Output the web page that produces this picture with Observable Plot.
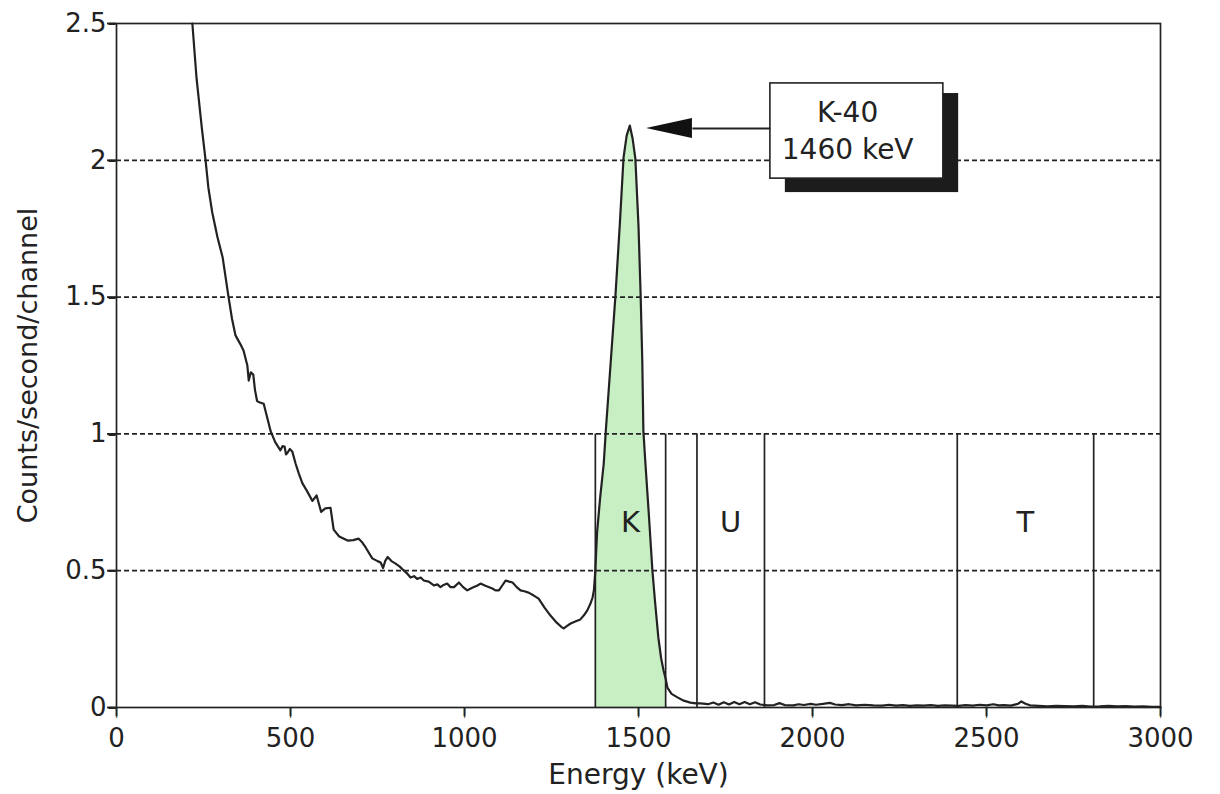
<!DOCTYPE html>
<html>
<head>
<meta charset="utf-8">
<script src="https://cdn.jsdelivr.net/npm/d3@7"></script>
<script src="https://cdn.jsdelivr.net/npm/@observablehq/plot@0.6"></script>
<style>
  html, body { margin: 0; padding: 0; background: #ffffff; }
  #chart { width: 1220px; height: 794px; }
</style>
</head>
<body>
<div id="chart"></div>
<script>
// ---- Data ----
const energy = [
  218, 230, 245, 256, 264, 275, 290, 305, 322, 332, 342, 355, 365, 376, 380, 386, 393, 398, 404, 412,
  423, 433, 443, 456, 471, 477, 483, 487, 491, 498, 505, 515, 524, 534, 548, 563, 575, 588, 600, 615,
  624, 640, 664, 680, 696, 705, 716, 735, 750, 759, 766, 772, 779, 790, 802, 814, 826, 835, 845, 855,
  864, 874, 883, 897, 912, 922, 931, 940, 950, 960, 970, 984, 996, 1008, 1018, 1027, 1036, 1046, 1060, 1080,
  1089, 1099, 1108, 1118, 1128, 1138, 1150, 1161, 1172, 1184, 1198, 1213, 1230, 1247, 1265, 1278, 1285, 1295, 1305, 1320,
  1333, 1345, 1353, 1362, 1368, 1372, 1376, 1378, 1381, 1390, 1400, 1406, 1420, 1434, 1446, 1457, 1466, 1475, 1483, 1491,
  1500, 1506, 1511, 1514, 1520, 1530, 1540, 1548, 1557, 1565, 1572, 1578, 1583, 1595, 1612, 1630, 1649, 1665, 1678,
  1700, 1715, 1730, 1745, 1760, 1775, 1790, 1805, 1820, 1835, 1850, 1870, 1890, 1905, 1920, 1945, 1960, 1975, 1995, 2010,
  2030, 2050, 2065, 2085, 2105, 2125, 2150, 2175, 2200, 2220, 2240, 2260, 2280, 2300, 2320, 2340, 2360, 2380, 2400, 2420,
  2440, 2460, 2480, 2500, 2520, 2535, 2550, 2570, 2590, 2600, 2612, 2625, 2650, 2675, 2700, 2725, 2750, 2775, 2800, 2825,
  2850, 2875, 2900, 2925, 2950, 2975, 3000
];
const counts = [
  2.50, 2.30, 2.12, 2.00, 1.90, 1.81, 1.72, 1.645, 1.50, 1.42, 1.36, 1.33, 1.305, 1.25, 1.195, 1.225, 1.217, 1.16, 1.12, 1.115,
  1.11, 1.06, 1.01, 0.97, 0.94, 0.955, 0.954, 0.925, 0.93, 0.945, 0.936, 0.89, 0.855, 0.82, 0.79, 0.755, 0.775, 0.715, 0.728, 0.73,
  0.65, 0.625, 0.61, 0.612, 0.617, 0.605, 0.585, 0.545, 0.535, 0.53, 0.51, 0.535, 0.55, 0.535, 0.526, 0.515, 0.50, 0.49, 0.475, 0.48,
  0.47, 0.475, 0.464, 0.46, 0.446, 0.45, 0.44, 0.448, 0.453, 0.44, 0.44, 0.457, 0.44, 0.428, 0.435, 0.44, 0.445, 0.453, 0.445, 0.435,
  0.428, 0.428, 0.445, 0.464, 0.46, 0.457, 0.44, 0.428, 0.425, 0.42, 0.41, 0.398, 0.365, 0.336, 0.31, 0.295, 0.289, 0.298, 0.307, 0.315,
  0.322, 0.34, 0.355, 0.38, 0.402, 0.43, 0.50, 0.56, 0.64, 0.77, 0.89, 1.01, 1.26, 1.51, 1.76, 2.01, 2.09, 2.127, 2.08, 2.006,
  1.76, 1.513, 1.26, 1.012, 0.89, 0.70, 0.50, 0.38, 0.256, 0.18, 0.135, 0.105, 0.073, 0.05, 0.037, 0.025, 0.018, 0.015, 0.015,
  0.012, 0.018, 0.010, 0.019, 0.011, 0.020, 0.012, 0.020, 0.012, 0.019, 0.011, 0.008, 0.009, 0.016, 0.009, 0.008, 0.012, 0.009, 0.013, 0.010,
  0.013, 0.017, 0.011, 0.009, 0.012, 0.008, 0.010, 0.008, 0.007, 0.010, 0.007, 0.009, 0.006, 0.008, 0.007, 0.009, 0.006, 0.008, 0.007, 0.006,
  0.009, 0.007, 0.010, 0.008, 0.012, 0.008, 0.009, 0.007, 0.013, 0.022, 0.014, 0.008, 0.006, 0.004, 0.006, 0.005, 0.004, 0.006, 0.003, 0.004,
  0.006, 0.004, 0.005, 0.003, 0.004, 0.002, 0.002
];

// Energy windows (keV): K, U, T
const windowNames = ["K", "U", "T"];
const windowLow  = [1376, 1668, 2416];
const windowHigh = [1578, 1862, 2808];
const windowLabelLevel = 0.676;

const gridLevels = [0.5, 1, 1.5, 2];
const xTicks = [0, 500, 1000, 1500, 2000, 2500, 3000];
const yTicks = [0, 0.5, 1, 1.5, 2, 2.5];

// Annotation (K-40 photopeak)
const annotLines = ["K-40", "1460 keV"];
const annotLineLevels = [2.171, 2.036];
const annotCenter = 2101;
const annotBox = {x1: 1879, x2: 2376, y1: 1.933, y2: 2.281};
const annotShadow = {x1: 1922, x2: 2420, y1: 1.882, y2: 2.244};
const arrowTip = {e: 1523, c: 2.116};
const arrowBase = 1655;
const arrowHalf = 0.0365;

// ---- Build ----
const spectrum = energy.map((e, i) => ({e, c: counts[i]}));
const kBand = spectrum.filter(d => d.e >= windowLow[0] && d.e <= windowHigh[0]);
const windowEdges = windowLow.concat(windowHigh);
const windowLabels = windowNames.map((n, i) => ({n, e: (windowLow[i] + windowHigh[i]) / 2, c: windowLabelLevel}));
const head = [
  {e: arrowTip.e, y1: arrowTip.c, y2: arrowTip.c},
  {e: arrowBase, y1: arrowTip.c - arrowHalf, y2: arrowTip.c + arrowHalf}
];
const ink = "#222";

const chart = Plot.plot({
  width: 1220,
  height: 794,
  marginLeft: 116,
  marginRight: 60,
  marginTop: 23,
  marginBottom: 87,
  style: {fontFamily: "'DejaVu Sans', sans-serif", fontSize: "26px", color: ink, background: "#ffffff", overflow: "visible"},
  x: {domain: [0, 3000]},
  y: {domain: [0, 2.5]},
  marks: [
    Plot.areaY(kBand, {x: "e", y: "c", fill: "#c8efc3"}),
    Plot.ruleY(gridLevels, {stroke: ink, strokeWidth: 1.8, strokeDasharray: "5,3"}),
    Plot.ruleX(windowEdges, {y1: 0, y2: 1, stroke: ink, strokeWidth: 1.7}),
    Plot.line(spectrum, {x: "e", y: "c", stroke: ink, strokeWidth: 2.2}),
    Plot.text(windowLabels, {x: "e", y: "c", text: "n", fontSize: 29, fill: ink}),
    Plot.rect([annotShadow], {x1: "x1", x2: "x2", y1: "y1", y2: "y2", fill: "#1c1c1c"}),
    Plot.rect([annotBox], {x1: "x1", x2: "x2", y1: "y1", y2: "y2", fill: "#ffffff", stroke: ink, strokeWidth: 1.6}),
    Plot.link([0], {x1: () => annotBox.x1, x2: () => arrowBase, y1: () => arrowTip.c, y2: () => arrowTip.c, stroke: ink, strokeWidth: 2}),
    Plot.areaY(head, {x: "e", y1: "y1", y2: "y2", fill: "#111"}),
    Plot.text(annotLines, {x: () => annotCenter, y: (d, i) => annotLineLevels[i], text: d => d, fontSize: 28, fill: ink}),
    // small outward tick glyphs on both axes
    Plot.text(xTicks, {x: d => d, y: () => 0, text: () => "|", lineAnchor: "top", fontSize: 10, fontWeight: "bold", fill: ink}),
    Plot.text(yTicks, {x: () => 0, y: d => d, text: () => "\u2013", textAnchor: "end", lineAnchor: "middle", fontSize: 18, fontWeight: "bold", fill: ink}),
    Plot.axisX({ticks: xTicks, tickSize: 9, tickPadding: 12, tickFormat: d => String(d), label: null, fontSize: 26, stroke: ink, strokeWidth: 1.8, fill: ink}),
    Plot.axisY({ticks: yTicks, tickSize: 9, tickPadding: 1, tickFormat: d => String(d), label: null, fontSize: 26, stroke: ink, strokeWidth: 1.8, fill: ink}),
    Plot.frame({stroke: ink, strokeWidth: 1.7}),
    Plot.text(["Energy (keV)"], {frameAnchor: "bottom", dy: 68, lineAnchor: "middle", textAnchor: "middle", fontSize: 28, fill: ink}),
    Plot.text(["Counts/second/channel"], {frameAnchor: "left", dx: -88, rotate: -90, textAnchor: "middle", lineAnchor: "middle", fontSize: 27, fill: ink})
  ]
});
document.getElementById("chart").appendChild(chart);
</script>
</body>
</html>
